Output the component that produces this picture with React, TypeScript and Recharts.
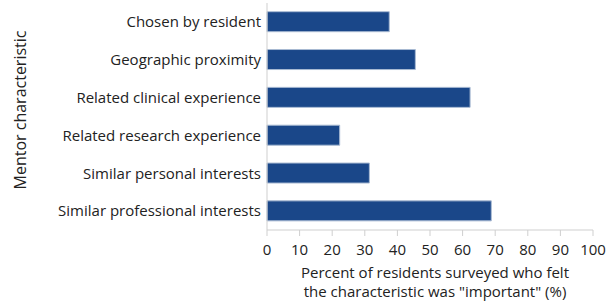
import { BarChart, Bar, XAxis, YAxis } from "recharts";

// mentor characteristics, top to bottom
const categories = [
  "Chosen by resident",
  "Geographic proximity",
  "Related clinical experience",
  "Related research experience",
  "Similar personal interests",
  "Similar professional interests",
];
const percentImportant = [37.5, 45.5, 62.3, 22.3, 31.4, 68.8];
const xTicks = [0, 10, 20, 30, 40, 50, 60, 70, 80, 90, 100];

const data = categories.map((name, i) => ({ name, value: percentImportant[i] }));

const FONT = "'Open Sans', sans-serif";
const TEXT = "#222";
const AXIS = "#cfcfcf";

function XLabel(props: any) {
  const { viewBox } = props;
  const cx = viewBox.x + viewBox.width / 2 + 5;
  return (
    <text x={cx} y={viewBox.y + 48} textAnchor="middle" fill={TEXT} fontSize={15} fontFamily={FONT}>
      <tspan x={cx} dy={0}>Percent of residents surveyed who felt</tspan>
      <tspan x={cx} dy={19}>the characteristic was "important" (%)</tspan>
    </text>
  );
}

function YLabel() {
  return (
    <text
      x={26}
      y={110}
      transform="rotate(-90 26 110)"
      textAnchor="middle"
      fill={TEXT}
      fontSize={16}
      fontFamily={FONT}
    >
      Mentor characteristic
    </text>
  );
}

export default function App() {
  return (
    <div style={{ position: "absolute", left: 0, top: 0, background: "#fff" }}>
      <BarChart
        layout="vertical"
        width={613}
        height={308}
        data={data}
        margin={{ top: 3, right: 20, bottom: 0, left: 0 }}
        barCategoryGap="23%"
      >
        <XAxis
          type="number"
          domain={[0, 100]}
          ticks={xTicks}
          interval={0}
          height={78}
          stroke={AXIS}
          tickSize={6}
          tick={{ fill: TEXT, fontSize: 15, fontFamily: FONT }}
          tickMargin={8}
          label={<XLabel />}
        />
        <YAxis
          type="category"
          dataKey="name"
          width={267}
          stroke={AXIS}
          tickLine={false}
          tickMargin={0}
          tick={{ fill: TEXT, fontSize: 15, fontFamily: FONT }}
          label={<YLabel />}
        />
        <Bar dataKey="value" fill="#1a4789" stroke="#a9bad3" strokeWidth={1} isAnimationActive={false} />
      </BarChart>
    </div>
  );
}
